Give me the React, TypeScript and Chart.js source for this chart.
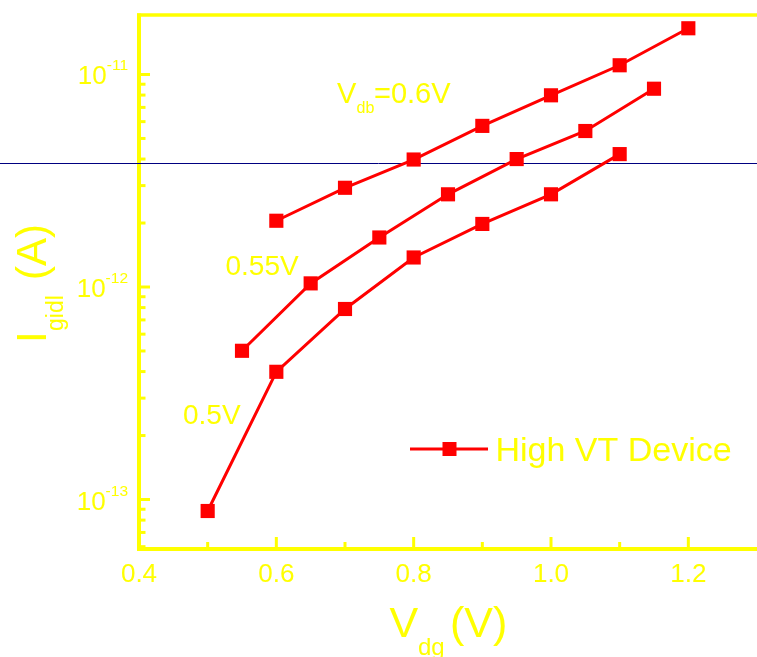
import React, { useEffect, useRef } from 'react';
import { Chart, registerables } from 'chart.js';

Chart.register(...registerables);

// ---------- data ----------
const vdb06X = [0.6, 0.7, 0.8, 0.9, 1.0, 1.1, 1.2];
const vdb06Y = [2.05e-12, 2.93e-12, 3.98e-12, 5.73e-12, 7.98e-12, 1.105e-11, 1.65e-11];
const vdb055X = [0.55, 0.65, 0.75, 0.85, 0.95, 1.05, 1.15];
const vdb055Y = [5.01e-13, 1.04e-12, 1.71e-12, 2.73e-12, 4.0e-12, 5.42e-12, 8.57e-12];
const vdb05X = [0.5, 0.6, 0.7, 0.8, 0.9, 1.0, 1.1];
const vdb05Y = [8.83e-14, 3.99e-13, 7.88e-13, 1.377e-12, 1.98e-12, 2.73e-12, 4.22e-12];

const xMajorTicks = [0.4, 0.6, 0.8, 1.0, 1.2];
const xMajorLabels = ['0.4', '0.6', '0.8', '1.0', '1.2'];
const xMinorTicks = [0.5, 0.7, 0.9, 1.1];
const yMajorTicks = [1e-13, 1e-12, 1e-11];
const yMajorExponents = ['-13', '-12', '-11'];
const yMinorMantissas = [2, 3, 4, 5, 6, 7, 8, 9];
const yMinorDecades = [1e-14, 1e-13, 1e-12, 1e-11];
const refLineValue = 3.834e-12;
const legendLabel = 'High VT Device';

const X_MIN = 0.4;
const X_MAX = 1.3;
const Y_MIN = 5.85e-14;
const Y_MAX = 1.905e-11;

// ---------- styles ----------
const FONT = "'Liberation Sans', Arial, Helvetica, sans-serif";
const YELLOW = '#FFFF00';
const RED = '#FF0000';
const NAVY = '#000080';

function txt(ctx: CanvasRenderingContext2D, s: string, x: number, y: number, size: number, align: CanvasTextAlign = 'left') {
  ctx.font = `${size}px ${FONT}`;
  ctx.textAlign = align;
  ctx.textBaseline = 'alphabetic';
  ctx.fillStyle = YELLOW;
  ctx.fillText(s, x, y);
}
function width(ctx: CanvasRenderingContext2D, s: string, size: number) {
  ctx.font = `${size}px ${FONT}`;
  return ctx.measureText(s).width;
}

const decorPlugin = {
  id: 'decor',
  beforeDatasetsDraw(chart: any) {
    const { ctx, chartArea: ca, scales } = chart;
    const x = scales.x;
    const y = scales.y;
    ctx.save();
    ctx.strokeStyle = YELLOW;
    ctx.lineCap = 'butt';
    // ticks on left axis (pointing inward)
    ctx.lineWidth = 3;
    yMajorTicks.forEach((v) => {
      const py = y.getPixelForValue(v);
      ctx.beginPath();
      ctx.moveTo(ca.left, py);
      ctx.lineTo(ca.left + 11, py);
      ctx.stroke();
    });
    yMinorDecades.forEach((d) => {
      yMinorMantissas.forEach((m) => {
        const v = m * d;
        if (v < Y_MIN || v > Y_MAX) return;
        const py = y.getPixelForValue(v);
        ctx.beginPath();
        ctx.moveTo(ca.left, py);
        ctx.lineTo(ca.left + 6.5, py);
        ctx.stroke();
      });
    });
    // ticks on bottom axis
    xMajorTicks.forEach((v) => {
      const px = x.getPixelForValue(v);
      ctx.beginPath();
      ctx.moveTo(px, ca.bottom);
      ctx.lineTo(px, ca.bottom - 12);
      ctx.stroke();
    });
    xMinorTicks.forEach((v) => {
      const px = x.getPixelForValue(v);
      ctx.beginPath();
      ctx.moveTo(px, ca.bottom);
      ctx.lineTo(px, ca.bottom - 7);
      ctx.stroke();
    });
    // frame: left, bottom, top
    ctx.lineWidth = 4;
    ctx.beginPath();
    ctx.moveTo(ca.left, ca.top - 1.5);
    ctx.lineTo(ca.left, ca.bottom + 2);
    ctx.stroke();
    ctx.beginPath();
    ctx.moveTo(ca.left - 2, ca.bottom);
    ctx.lineTo(chart.width, ca.bottom);
    ctx.stroke();
    ctx.lineWidth = 3.5;
    ctx.beginPath();
    ctx.moveTo(ca.left - 2, ca.top);
    ctx.lineTo(chart.width, ca.top);
    ctx.stroke();

    // thin navy reference line across the whole picture
    const ry = Math.round(y.getPixelForValue(refLineValue)) + 0.5;
    ctx.strokeStyle = NAVY;
    ctx.lineWidth = 1;
    ctx.beginPath();
    ctx.moveTo(0, ry);
    ctx.lineTo(chart.width, ry);
    ctx.stroke();
    ctx.restore();
  },
  afterDraw(chart: any) {
    const { ctx, chartArea: ca, scales } = chart;
    const x = scales.x;
    const y = scales.y;
    ctx.save();
    // x tick labels
    xMajorTicks.forEach((v, i) => {
      txt(ctx, xMajorLabels[i], x.getPixelForValue(v), ca.bottom + 33, 26, 'center');
    });
    // y tick labels 10^n
    yMajorTicks.forEach((v, i) => {
      const py = y.getPixelForValue(v);
      const right = ca.left - 11;
      const ws = width(ctx, yMajorExponents[i], 15.5);
      const wm = width(ctx, '10', 26);
      txt(ctx, '10', right - ws - wm, py + 10, 26);
      txt(ctx, yMajorExponents[i], right - ws, py - 4, 15.5);
    });

    // x axis title: V_dg (V)
    txt(ctx, 'V', 389.5, 637, 43);
    txt(ctx, 'dg', 418, 655, 24);
    txt(ctx, '(V)', 450, 637, 43);

    // y axis title: I_gidl (A), rotated
    ctx.save();
    ctx.translate(46, 343);
    ctx.rotate(-Math.PI / 2);
    txt(ctx, 'I', 0, 0, 42);
    txt(ctx, 'gidl', 12, 17, 23);
    txt(ctx, '(A)', 63, 0, 42);
    ctx.restore();

    // annotations
    txt(ctx, 'V', 337, 102.5, 29);
    txt(ctx, 'db', 356.5, 113, 16);
    txt(ctx, '=0.6V', 374, 102.5, 29);
    txt(ctx, '0.55V', 225.5, 274.5, 28);
    txt(ctx, '0.5V', 183, 423.5, 28);

    // legend
    ctx.strokeStyle = RED;
    ctx.lineWidth = 3;
    ctx.beginPath();
    ctx.moveTo(410, 449);
    ctx.lineTo(488, 449);
    ctx.stroke();
    ctx.fillStyle = RED;
    ctx.fillRect(442.5, 442, 14, 14);
    txt(ctx, legendLabel, 495.5, 461, 34);
    ctx.restore();
  },
};

function makeDataset(label: string, xs: number[], ys: number[]) {
  return {
    label,
    data: xs.map((v, i) => ({ x: v, y: ys[i] })),
    borderColor: RED,
    backgroundColor: RED,
    borderWidth: 3,
    pointStyle: 'rect' as const,
    pointRadius: 10,
    pointBorderWidth: 0,
    pointBackgroundColor: RED,
    tension: 0,
    fill: false,
  };
}

export default function App() {
  const ref = useRef<HTMLCanvasElement>(null);
  useEffect(() => {
    if (!ref.current) return;
    const chart = new Chart(ref.current, {
      type: 'line',
      data: {
        datasets: [
          makeDataset('Vdb=0.6V', vdb06X, vdb06Y),
          makeDataset('0.55V', vdb055X, vdb055Y),
          makeDataset('0.5V', vdb05X, vdb05Y),
        ],
      },
      options: {
        responsive: false,
        animation: false,
        devicePixelRatio: 1,
        layout: { padding: { top: 15, left: 0, right: 0, bottom: 0 }, autoPadding: false },
        plugins: { legend: { display: false }, tooltip: { enabled: false } },
        scales: {
          x: {
            type: 'linear',
            min: X_MIN,
            max: X_MAX,
            ticks: { display: false },
            grid: { display: false, drawTicks: false },
            border: { display: false },
            afterFit: (s: any) => {
              s.height = 108;
            },
          },
          y: {
            type: 'logarithmic',
            min: Y_MIN,
            max: Y_MAX,
            ticks: { display: false },
            grid: { display: false, drawTicks: false },
            border: { display: false },
            afterFit: (s: any) => {
              s.width = 139;
            },
          },
        },
      },
      plugins: [decorPlugin],
    } as any);
    return () => chart.destroy();
  }, []);
  return (
    <div style={{ position: 'fixed', left: 0, top: 0, width: 757, height: 657, background: '#ffffff' }}>
      <canvas ref={ref} width={757} height={657} style={{ display: 'block' }} />
    </div>
  );
}
